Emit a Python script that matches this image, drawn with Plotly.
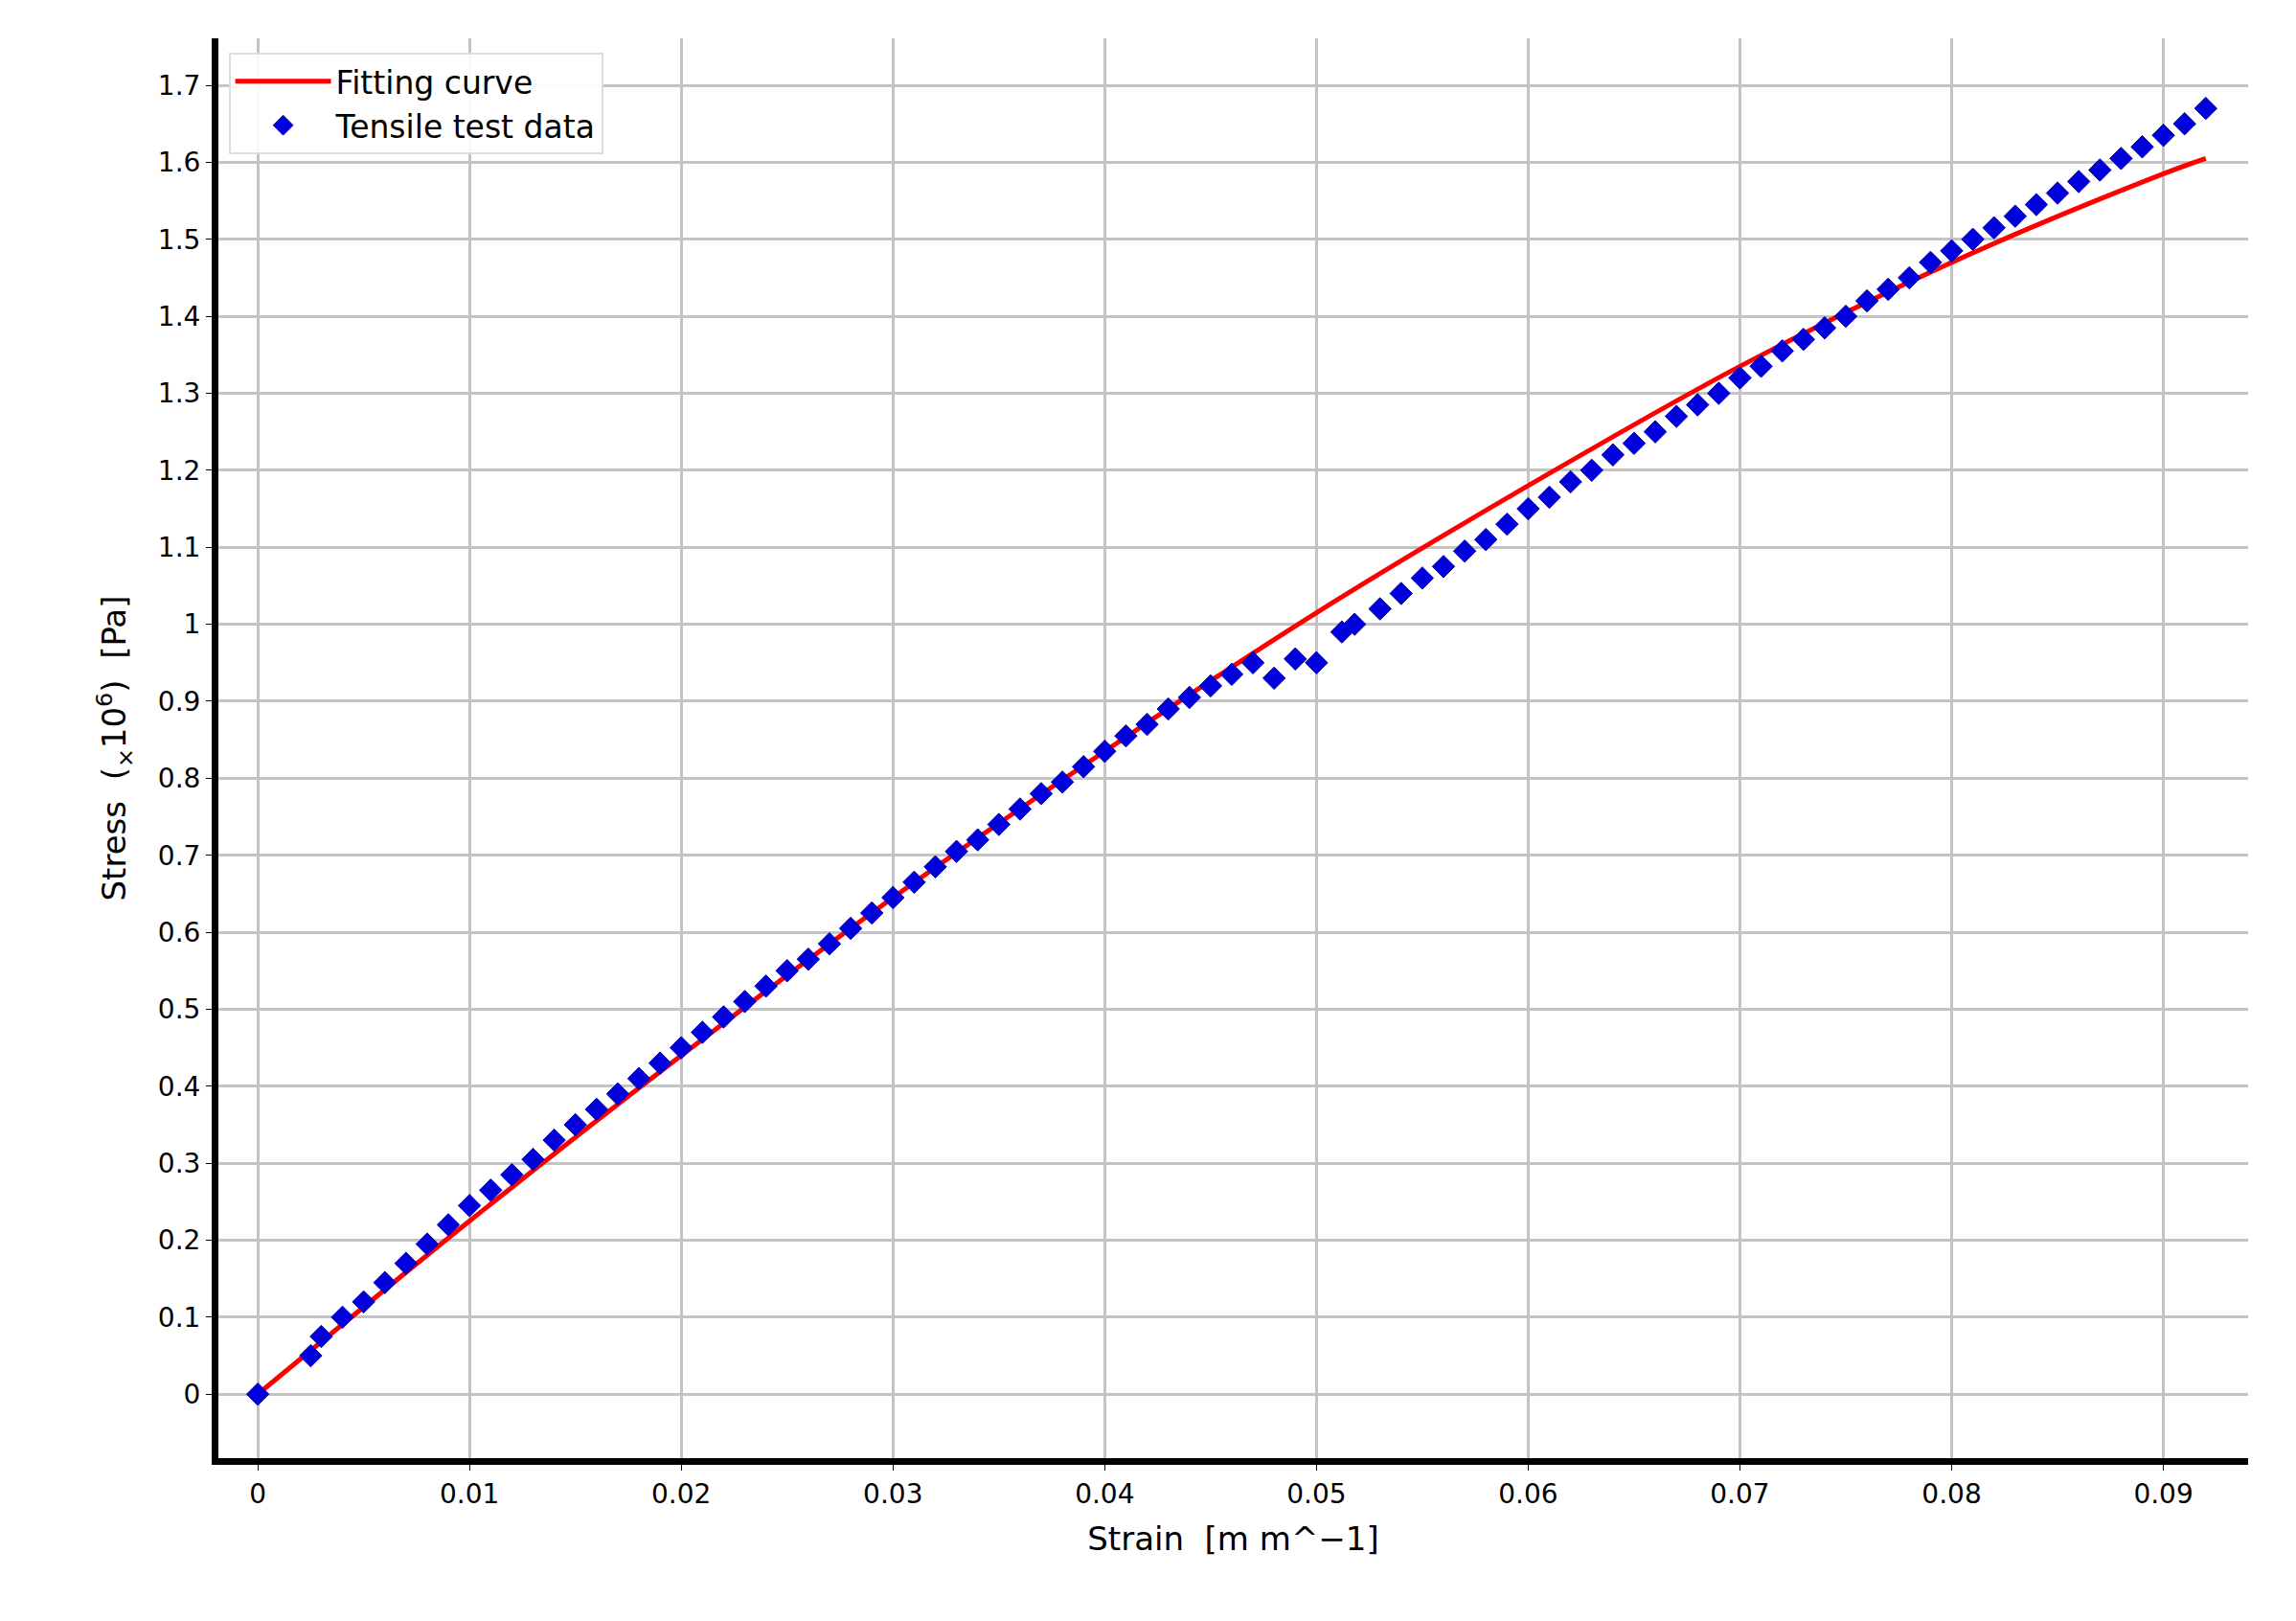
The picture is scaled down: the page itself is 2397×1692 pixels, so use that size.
import plotly.graph_objects as go

strain_data = [0, 0.0025, 0.003, 0.004, 0.005, 0.006, 0.007, 0.008, 0.009, 0.010, 0.011, 0.012, 0.013, 0.014, 0.015,
               0.016, 0.017, 0.018, 0.019, 0.020, 0.021, 0.022, 0.023, 0.024, 0.025, 0.026, 0.027, 0.028, 0.029, 0.030,
               0.031, 0.032, 0.033, 0.034, 0.035, 0.036, 0.037, 0.038, 0.039, 0.040, 0.041, 0.042, 0.043, 0.044, 0.045,
               0.046, 0.047, 0.048, 0.049, 0.050, 0.0512, 0.0518, 0.053, 0.054, 0.055, 0.056, 0.057, 0.058, 0.059, 0.060,
               0.061, 0.062, 0.063, 0.064, 0.065, 0.066, 0.067, 0.068, 0.069, 0.070, 0.071, 0.072, 0.073, 0.074, 0.075,
               0.076, 0.077, 0.078, 0.079, 0.080, 0.081, 0.082, 0.083, 0.084, 0.085, 0.086, 0.087, 0.088, 0.089, 0.090,
               0.091, 0.092]
stress_data = [0, 0.05, 0.075, 0.10, 0.12, 0.145, 0.17, 0.195, 0.22, 0.245, 0.265, 0.285, 0.305, 0.33, 0.35,
               0.37, 0.39, 0.41, 0.43, 0.45, 0.47, 0.49, 0.51, 0.53, 0.55, 0.565, 0.585, 0.605, 0.625, 0.645,
               0.665, 0.685, 0.705, 0.72, 0.74, 0.76, 0.78, 0.795, 0.815, 0.835, 0.855, 0.87, 0.89, 0.905, 0.92,
               0.935, 0.95, 0.93, 0.955, 0.95, 0.99, 1.0, 1.02, 1.04, 1.06, 1.075, 1.095, 1.11, 1.13, 1.15,
               1.165, 1.185, 1.2, 1.22, 1.235, 1.25, 1.27, 1.285, 1.30, 1.32, 1.335, 1.355, 1.37, 1.385, 1.40,
               1.42, 1.435, 1.45, 1.47, 1.485, 1.50, 1.515, 1.53, 1.545, 1.56, 1.575, 1.59, 1.605, 1.62, 1.635,
               1.65, 1.67]

strain_fit = [0, 0.01, 0.02, 0.03, 0.04, 0.05, 0.06, 0.07, 0.08, 0.09, 0.092]
stress_fit = [0, 0.225, 0.44, 0.645, 0.835, 1.015, 1.18, 1.335, 1.47, 1.585, 1.605]

x_ticks = [0, 0.01, 0.02, 0.03, 0.04, 0.05, 0.06, 0.07, 0.08, 0.09]
y_ticks = [0, 0.1, 0.2, 0.3, 0.4, 0.5, 0.6, 0.7, 0.8, 0.9, 1, 1.1, 1.2, 1.3, 1.4, 1.5, 1.6, 1.7]

font = "DejaVu Sans"
fig = go.Figure()
fig.add_trace(go.Scatter(x=strain_fit, y=stress_fit, mode="lines", name="Fitting curve",
                         line=dict(color="#ff0000", width=5, shape="spline")))
fig.add_trace(go.Scatter(x=strain_data, y=stress_data, mode="markers", name="Tensile test data",
                         marker=dict(symbol="diamond", color="#0000dd", size=18,
                                     line=dict(color="#0000aa", width=1))))

axis_common = dict(showgrid=True, gridcolor="#c4c4c4", gridwidth=3, zeroline=False,
                   showline=True, linecolor="black", linewidth=7, ticks="outside",
                   ticklen=6, tickcolor="black", tickfont=dict(family=font, size=28, color="black"))
fig.update_xaxes(range=[-0.00186, 0.094], tickvals=x_ticks, ticktext=[str(v) for v in x_ticks],
                 title=dict(text="Strain  [m m^\u22121]", font=dict(family=font, size=34, color="black"), standoff=22),
                 **axis_common)
fig.update_yaxes(range=[-0.083, 1.761], tickvals=y_ticks, ticktext=[f"{v:g}" for v in y_ticks],
                 title=dict(text="Stress  (<sub>\u00d7</sub>10<sup>6</sup>)  [Pa]",
                            font=dict(family=font, size=34, color="black"), standoff=25),
                 **axis_common)
fig.update_layout(width=2397, height=1692, plot_bgcolor="white", paper_bgcolor="white",
                  margin=dict(l=220, r=58, t=32, b=178),
                  font=dict(family=font),
                  legend=dict(x=0.005, y=0.99, xanchor="left", yanchor="top",
                              bgcolor="rgba(255,255,255,0.9)", bordercolor="#dddddd", borderwidth=2,
                              font=dict(family=font, size=33, color="black"), itemwidth=100,
                              tracegroupgap=10))
fig.write_html("out.html")
